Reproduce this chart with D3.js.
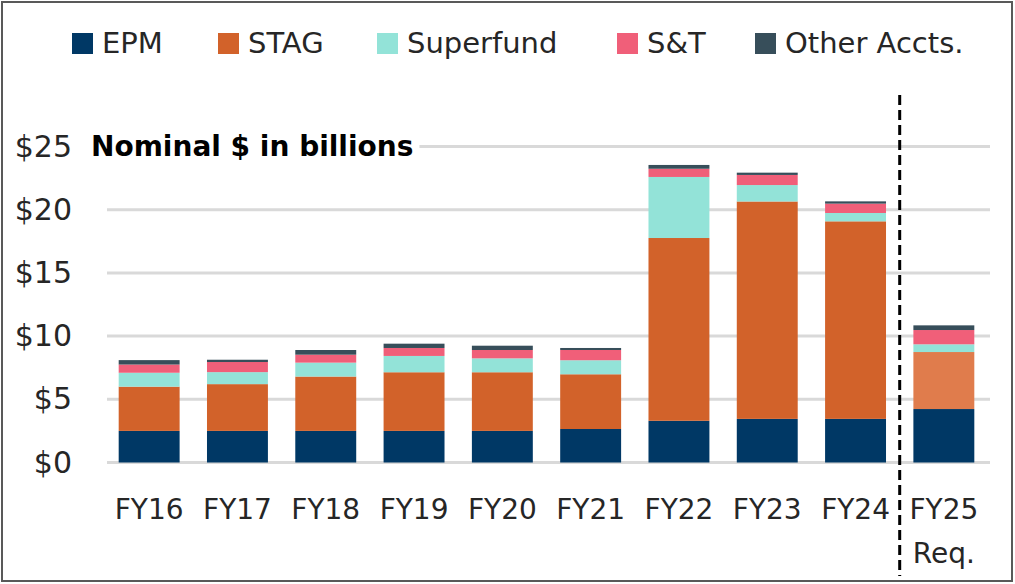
<!DOCTYPE html>
<html>
<head>
<meta charset="utf-8">
<script src="https://cdn.jsdelivr.net/npm/d3@7"></script>
<style>
  body{margin:0;background:#fff;}
  svg{font-family:"DejaVu Sans",Verdana,sans-serif;}
</style>
</head>
<body>
<svg id="drawing_region"></svg>
<script>
// fiscal years and series values ($ billions, nominal)
const years = ["FY16","FY17","FY18","FY19","FY20","FY21","FY22","FY23","FY24","FY25"];
const epm       = [2.5, 2.5, 2.5, 2.5, 2.5, 2.65, 3.3, 3.45, 3.45, 4.23];
const stag      = [3.5, 3.7, 4.3, 4.64, 4.64, 4.33, 14.46, 17.2, 15.63, 4.51];
const superfund = [1.1, 0.95, 1.1, 1.29, 1.1, 1.11, 4.83, 1.3, 0.66, 0.61];
const st        = [0.65, 0.8, 0.63, 0.63, 0.66, 0.81, 0.65, 0.8, 0.74, 1.13];
const other     = [0.35, 0.18, 0.37, 0.34, 0.34, 0.16, 0.3, 0.18, 0.18, 0.37];
const seriesNames = ["EPM","STAG","Superfund","S&T","Other Accts."];
const yTicks = [0, 5, 10, 15, 20, 25];

const colors = {"EPM":"#003865","STAG":"#d2622a","Superfund":"#93e3d8","S&T":"#f05f79","Other Accts.":"#374e5a"};
const stagRequest = "#e07c4c";

const W = 1015, H = 584;
const svg = d3.select("#drawing_region").attr("width",W).attr("height",H);

svg.append("rect")
  .attr("x",2).attr("y",2).attr("width",W-5).attr("height",H-5)
  .attr("fill","#fff").attr("stroke","#595959").attr("stroke-width",2);

const table = years.map((y,i)=>({
  year:y, "EPM":epm[i], "STAG":stag[i], "Superfund":superfund[i], "S&T":st[i], "Other Accts.":other[i]
}));

const x = d3.scaleBand().domain(years).range([105,988]).paddingInner(0.31).paddingOuter(0.155);
const y = d3.scaleLinear().domain([0,25]).range([462.5,146.5]);

// gridlines
svg.append("g").selectAll("line")
  .data(yTicks)
  .join("line")
  .attr("x1",107).attr("x2",990)
  .attr("y1",d=>y(d)).attr("y2",d=>y(d))
  .attr("stroke","#d9d9d9").attr("stroke-width",3);

// y axis labels
const yaxis = d3.axisLeft(y).tickValues(yTicks).tickFormat(d=>"$"+d).tickSize(0).tickPadding(0);
const yg = svg.append("g").attr("transform","translate(72,0)").call(yaxis);
yg.select(".domain").remove();
yg.selectAll("text").attr("font-size","30px").attr("fill","#262626")
  .attr("font-family","DejaVu Sans, Verdana, sans-serif");

// stacked bars
const stack = d3.stack().keys(seriesNames);
const layers = stack(table);
svg.append("g").selectAll("g")
  .data(layers)
  .join("g")
  .selectAll("rect")
  .data(d=>d.map(v=>({key:d.key, v:v})))
  .join("rect")
  .attr("x",d=>x(d.v.data.year))
  .attr("width",x.bandwidth())
  .attr("y",d=>y(d.v[1]))
  .attr("height",d=>y(d.v[0])-y(d.v[1]))
  .attr("fill",d=>(d.key==="STAG" && d.v.data.year==="FY25") ? stagRequest : colors[d.key]);

// x axis labels
const xaxis = d3.axisBottom(x).tickSize(0).tickPadding(0);
const xg = svg.append("g").attr("transform","translate(0,499)").call(xaxis);
xg.select(".domain").remove();
xg.selectAll("text").attr("font-size","28px").attr("fill","#262626")
  .attr("font-family","DejaVu Sans, Verdana, sans-serif")
  .attr("dy","0.71em");
svg.append("text")
  .attr("x",x("FY25")+x.bandwidth()/2).attr("y",563)
  .attr("text-anchor","middle").attr("font-size","28px").attr("fill","#262626")
  .text("Req.");

// divider before the request year
const divX = (x("FY24")+x.bandwidth()+x("FY25"))/2;
svg.append("line")
  .attr("x1",divX).attr("x2",divX).attr("y1",95).attr("y2",576)
  .attr("stroke","#000").attr("stroke-width",3).attr("stroke-dasharray","10,5");

// title with white background
const titleBg = svg.append("rect").attr("fill","#fff");
const title = svg.append("text")
  .attr("x",91).attr("y",156)
  .attr("font-size","28px").attr("font-weight","bold").attr("fill","#000")
  .text("Nominal $ in billions");
const bb = title.node().getBBox();
titleBg.attr("x",bb.x-6).attr("y",bb.y).attr("width",bb.width+12).attr("height",bb.height);

// legend
const legendX = [72, 218, 377, 617, 755];
const legend = svg.append("g").selectAll("g")
  .data(seriesNames)
  .join("g")
  .attr("transform",(d,i)=>`translate(${legendX[i]},43)`);
legend.append("rect")
  .attr("x",0).attr("y",-10).attr("width",21).attr("height",21)
  .attr("fill",d=>colors[d]);
legend.append("text")
  .attr("x",30).attr("y",0).attr("dy","0.36em")
  .attr("font-size","29px").attr("fill","#262626")
  .text(d=>d);
</script>
</body>
</html>
